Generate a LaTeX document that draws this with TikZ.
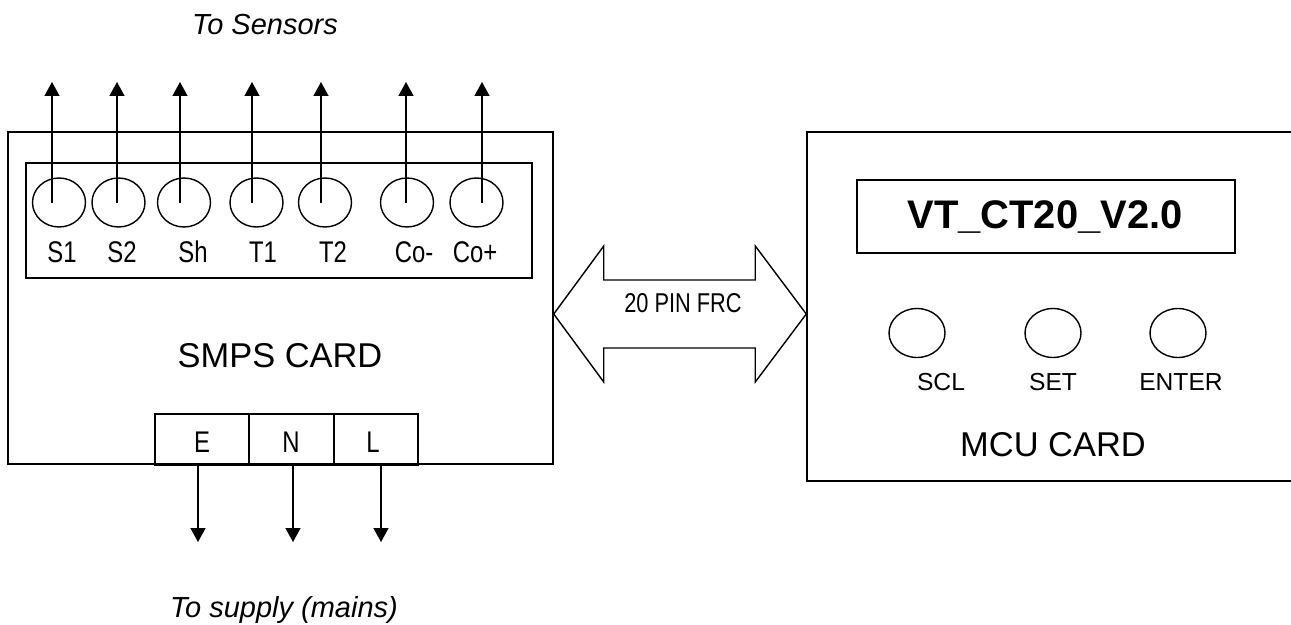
\documentclass[tikz,border=0pt]{standalone}
\usepackage{fontspec}
\setmainfont{Liberation Sans}
\newfontfamily\narrowfont[FakeStretch=0.8]{Liberation Sans}
\usetikzlibrary{arrows.meta, positioning, calc, shapes.geometric}

\begin{document}
\begin{tikzpicture}[x=0.02cm, y=-0.02cm, >={Triangle[length=0.28cm, width=0.3cm]}]
  \tikzstyle{cardbox} = [rectangle, draw, line width=0.9pt, inner sep=0pt]
  \tikzstyle{termhole} = [ellipse, draw, line width=0.8pt, minimum width=1.06cm, minimum height=0.98cm, inner sep=0pt]
  \tikzstyle{keyhole} = [ellipse, draw, line width=0.8pt, minimum width=1.12cm, minimum height=0.98cm, inner sep=0pt]
  \tikzstyle{mainscell} = [cardbox, anchor=north west, minimum height=1.02cm]
  \tikzstyle{termlabel} = [anchor=base, inner sep=0pt, font=\narrowfont\fontsize{17}{20}\selectfont]
  \tikzstyle{cardlabel} = [anchor=base, inner sep=0pt, font=\fontsize{19.6}{23}\selectfont]
  \tikzstyle{keylabel} = [anchor=base, inner sep=0pt, font=\fontsize{14}{17}\selectfont]
  \tikzstyle{notelabel} = [anchor=base, inner sep=0pt, font=\itshape\fontsize{16.5}{20}\selectfont]
  \tikzstyle{wire} = [->, line width=0.8pt]

  \useasboundingbox (0,0) rectangle (1291,625);

  \node [cardbox, minimum width=10.9cm, minimum height=6.64cm] (smps) at (280.5,298) {};
  \node [cardbox, minimum width=10.12cm, minimum height=2.3cm] (strip) at (279,220.5) {};
  \node [cardlabel] (smpslabel) at (280,367) {SMPS CARD};
  \node [notelabel] (sensors) at (265,35) {To Sensors};

  \foreach \name/\hx/\ax/\lx/\txt in {s1/59/52/62/S1, s2/118.5/117/122/S2, sh/184/180/193/Sh, t1/256.5/252/263/T1, t2/325/321/333/T2, com/407/406/414/Co-, cop/476.5/482/475/Co+} {
    \node [termhole] (\name) at (\hx,202.5) {};
    \node [termlabel] (\name label) at (\lx,262) {\txt};
    \coordinate (\name tip) at (\ax,82);
    \draw [wire] (\name tip |- \name.center) -- (\name tip);
  }

  \node [mainscell, minimum width=1.88cm] (earth) at (154,413) {};
  \node [mainscell, minimum width=1.7cm] (neutral) at (248,413) {};
  \node [mainscell, minimum width=1.68cm] (live) at (333,413) {};
  \node [termlabel] (earthlabel) at (202,452) {E};
  \node [termlabel] (neutrallabel) at (291,452) {N};
  \node [termlabel] (livelabel) at (373,452) {L};
  \foreach \name/\ax in {earth/198, neutral/293, live/381} {
    \coordinate (\name tip) at (\ax,542);
    \draw [wire] (\name tip |- \name.south) -- (\name tip);
  }
  \node [notelabel] (mains) at (284,617) {To supply (mains)};

  \coordinate (frcl) at (smps.east |- 0,314);
  \node [cardbox, minimum width=9.86cm, minimum height=6.98cm] (mcu) at (1053.5,306.5) {};
  \coordinate (frcr) at (mcu.west |- 0,314);
  \draw [line width=0.8pt] (frcl) -- ++(50,-68) -- ++(0,34) -- ($(frcr)+(-51,-34)$) -- ++(0,-34) -- (frcr)
    -- ++(-51,68) -- ++(0,-34) -- ($(frcl)+(50,34)$) -- ++(0,34) -- cycle;
  \node [termlabel, font=\narrowfont\fontsize{15.5}{18}\selectfont] (frclabel) at (683,312) {20 PIN FRC};

  \node [cardbox, minimum width=7.56cm, minimum height=1.46cm] (display) at (1046,216.5) {};
  \node [anchor=base, inner sep=0pt, font=\bfseries\fontsize{22.7}{27}\selectfont] (fwname) at (1045,228) {VT\_CT20\_V2.0};

  \node [keyhole] (scl) at (917,333) {};
  \node [keyhole] (set) at (1053,333) {};
  \node [keyhole] (enter) at (1178,333) {};
  \node [keylabel] (scllabel) at (941,390) {SCL};
  \node [keylabel] (setlabel) at (1053,390) {SET};
  \node [keylabel] (enterlabel) at (1181,390) {ENTER};
  \node [cardlabel] (mculabel) at (1053,456) {MCU CARD};
\end{tikzpicture}
\end{document}
